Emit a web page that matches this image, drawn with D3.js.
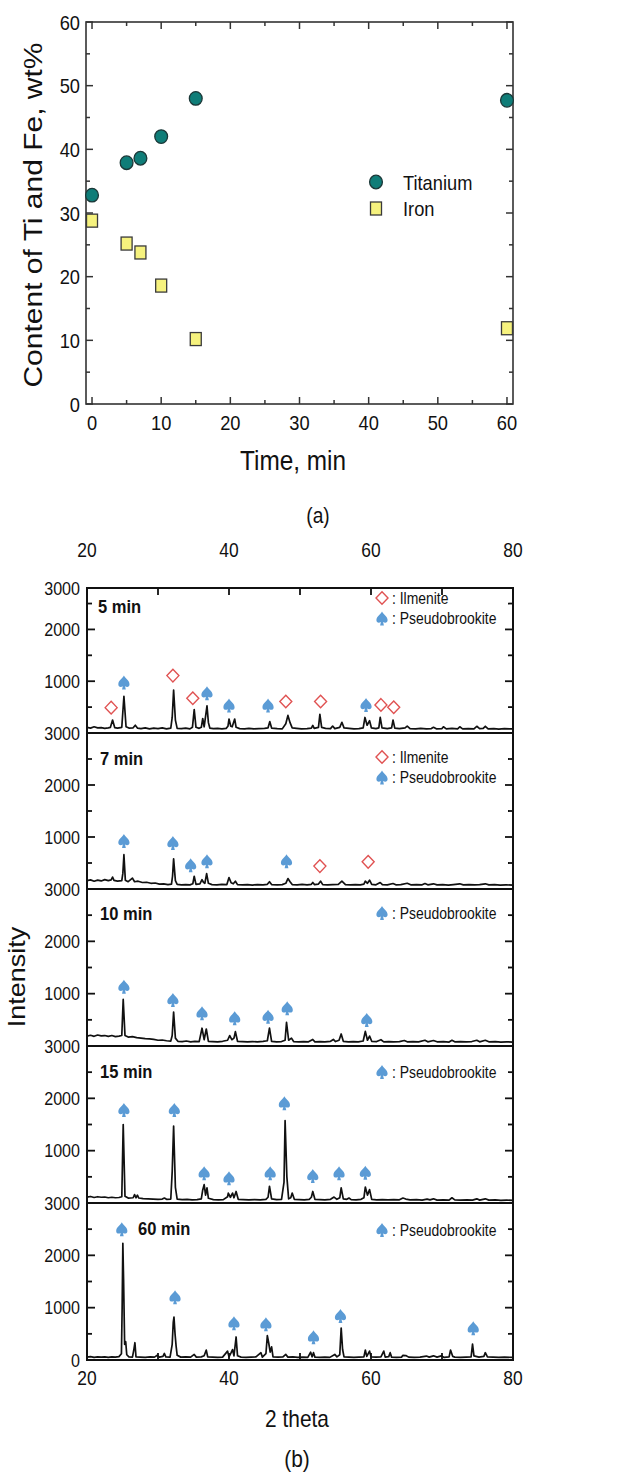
<!DOCTYPE html>
<html><head><meta charset="utf-8">
<script src="https://cdn.jsdelivr.net/npm/d3@7"></script>
<style>
body{margin:0;background:#fff;}
svg{display:block;}
text{font-family:"Liberation Sans",Arial,sans-serif;fill:#111;}
</style></head><body>
<svg id="c" width="636" height="1477"></svg>
<script>
// ---------- Panel (a) data ----------
const times = [0, 5, 7, 10, 15, 60];
const titanium = [32.8, 37.9, 38.6, 42.0, 48.0, 47.7];
const iron = [28.8, 25.2, 23.8, 18.6, 10.2, 11.9];
const aXTicks = [0, 10, 20, 30, 40, 50, 60];
const aXMinor = [5, 15, 25, 35, 45, 55];
const aYTicks = [0, 10, 20, 30, 40, 50, 60];
const aYMinor = [5, 15, 25, 35, 45, 55];
const aLegend = ["Titanium", "Iron"];

// ---------- Panel (b) data ----------
const panelLabels = ["5 min", "7 min", "10 min", "15 min", "60 min"];
const panelYMax = [2800, 3000, 3000, 3000, 3000];
const bXTicks = [20, 40, 60, 80];
const bXMinor = [30, 50, 70];
const bYTicks = [1000, 2000];
const bYMinor = [500, 1500, 2500];

const xrd5 = [[20,110],[20.5,95],[21,120],[21.5,100],[22,105],[22.5,90],[23,100],[23.3,110],[23.6,250],[23.9,105],[24.3,95],[24.9,110],[25.2,710],[25.5,120],[25.9,95],[26.5,100],[26.8,150],[27.1,95],[27.6,85],[28.2,100],[28.8,80],[29.4,95],[30,85],[30.6,100],[31.2,80],[31.8,95],[32.0,300],[32.2,830],[32.45,250],[32.7,90],[33.3,85],[33.9,95],[34.5,80],[34.85,110],[35.1,450],[35.35,110],[35.8,90],[36.1,110],[36.3,280],[36.5,120],[36.9,525],[37.1,200],[37.3,95],[37.8,85],[38.4,90],[39,80],[39.6,90],[39.85,130],[40.0,270],[40.25,130],[40.45,120],[40.8,270],[41.0,110],[41.5,85],[42.2,80],[42.8,90],[43.5,80],[44.2,85],[45,90],[45.5,100],[45.75,220],[46.0,95],[46.8,85],[47.5,80],[48.0,180],[48.3,340],[48.6,200],[48.9,100],[49.5,90],[50.2,80],[51,85],[51.6,95],[51.8,146],[52.0,90],[52.6,110],[52.8,360],[53.05,110],[53.6,90],[54.3,85],[54.6,134],[54.9,85],[55.6,110],[55.9,207],[56.2,100],[56.9,90],[57.6,80],[58.3,85],[58.9,100],[59.15,300],[59.45,150],[59.8,238],[60.05,100],[60.7,85],[61.1,100],[61.3,300],[61.55,100],[62.3,85],[62.9,100],[63.1,250],[63.35,95],[64,85],[64.8,100],[65.1,134],[65.5,85],[66.3,80],[67,90],[67.8,80],[68.5,85],[68.8,110],[69.2,80],[70,85],[70.2,120],[70.6,80],[71.4,90],[72.2,80],[72.5,120],[72.9,80],[73.7,85],[74.5,80],[74.9,130],[75.3,85],[75.8,90],[76.1,130],[76.5,80],[77.3,85],[78,75],[78.8,85],[79.5,80],[80,80]];

const xrd7 = [[20,160],[20.5,175],[21,150],[21.5,170],[22,155],[22.5,180],[23,160],[23.4,175],[23.6,230],[23.8,165],[24.3,150],[24.9,160],[25.05,300],[25.2,660],[25.4,170],[25.8,140],[26.4,210],[26.7,140],[27.2,150],[27.8,125],[28.4,130],[29,110],[29.6,115],[30.2,95],[30.8,100],[31.4,85],[31.9,95],[32.05,250],[32.2,580],[32.45,160],[32.7,90],[33.3,80],[33.9,85],[34.5,80],[34.9,100],[35.1,245],[35.35,90],[35.9,100],[36.2,180],[36.4,130],[36.6,110],[36.85,295],[37.1,110],[37.6,85],[38.3,80],[39,90],[39.7,85],[40.0,220],[40.3,120],[40.6,100],[40.9,150],[41.2,85],[41.9,80],[42.6,85],[43.3,75],[44,85],[44.8,80],[45.4,90],[45.7,140],[46,85],[46.8,80],[47.5,85],[48.0,110],[48.3,200],[48.6,140],[48.9,85],[49.6,80],[50.3,90],[51,80],[51.6,90],[51.8,125],[52.05,85],[52.6,95],[52.9,150],[53.2,85],[53.9,80],[54.6,85],[55.4,90],[55.9,150],[56.4,85],[57.1,80],[57.8,85],[58.5,80],[59.0,95],[59.2,150],[59.5,110],[59.8,170],[60.1,90],[60.7,80],[61.3,125],[61.6,85],[62.3,80],[63.1,105],[63.5,80],[64.2,85],[65.1,110],[65.6,80],[66.4,85],[67.2,80],[67.6,105],[68,80],[68.8,100],[69.3,80],[70.1,85],[70.9,75],[71.6,85],[72.5,100],[73,80],[73.8,85],[74.6,80],[75.3,85],[76.1,100],[76.6,80],[77.4,85],[78.2,75],[79,80],[80,75]];

const xrd10 = [[20,190],[20.5,205],[21,185],[21.5,210],[22,195],[22.5,200],[23,185],[23.5,200],[24,180],[24.5,190],[24.9,200],[25.1,890],[25.35,200],[25.8,170],[26.4,180],[26.7,170],[27.0,160],[27.6,150],[28.2,140],[28.8,135],[29.4,125],[30,110],[30.6,115],[31.2,100],[31.8,95],[32.0,200],[32.2,650],[32.45,150],[32.8,90],[33.4,85],[34,95],[34.6,80],[35.2,90],[35.8,85],[36.2,340],[36.5,120],[36.8,325],[37.1,90],[37.7,85],[38.4,80],[39.1,90],[39.8,110],[40.1,200],[40.4,120],[40.7,150],[40.9,275],[41.2,90],[41.9,85],[42.6,80],[43.3,85],[44,80],[44.8,90],[45.4,100],[45.7,340],[46,90],[46.7,80],[47.4,85],[47.9,110],[48.1,450],[48.4,110],[48.8,150],[49.1,85],[49.8,80],[50.5,85],[51.2,80],[51.8,125],[52.1,80],[52.8,85],[53.5,80],[54.3,90],[54.7,125],[55.0,85],[55.5,110],[55.8,230],[56.1,90],[56.8,80],[57.5,85],[58.2,80],[58.9,95],[59.2,280],[59.5,110],[59.8,190],[60.1,90],[60.8,85],[61.4,120],[61.8,80],[62.5,85],[63.2,80],[64,85],[64.7,105],[65.1,80],[65.9,85],[66.7,80],[67.6,110],[68,80],[68.8,105],[69.3,80],[70.2,85],[71.0,75],[71.4,110],[71.8,80],[72.6,85],[73.4,80],[74.2,85],[74.9,110],[75.3,80],[76.1,110],[76.6,80],[77.5,85],[78.3,75],[79.1,80],[80,75]];

const xrd15 = [[20,110],[20.5,125],[21,105],[21.5,120],[22,110],[22.5,115],[23,100],[23.5,110],[24,100],[24.5,105],[24.9,120],[25.1,1500],[25.35,130],[25.8,95],[26.5,100],[26.7,160],[26.9,100],[27.1,150],[27.3,95],[27.9,85],[28.6,80],[29.3,75],[30,70],[30.6,75],[30.9,95],[31.2,70],[31.8,75],[32.0,600],[32.2,1470],[32.45,300],[32.7,75],[33.4,65],[34.1,70],[34.8,60],[35.5,65],[36.1,80],[36.3,250],[36.5,350],[36.7,150],[36.9,290],[37.1,90],[37.8,65],[38.5,60],[39.2,65],[39.8,120],[39.9,190],[40.2,110],[40.5,190],[40.7,100],[41.0,220],[41.3,70],[42,65],[42.8,60],[43.6,65],[44.4,60],[45.2,70],[45.5,110],[45.7,320],[46,80],[46.7,65],[47.4,70],[47.75,400],[47.9,1575],[48.15,500],[48.4,80],[48.7,100],[48.9,190],[49.2,70],[49.9,65],[50.6,60],[51.3,70],[51.6,110],[51.8,220],[52.1,70],[52.8,65],[53.5,60],[54.3,70],[54.8,113],[55.2,70],[55.6,100],[55.8,290],[56.1,80],[56.6,70],[56.9,95],[57.2,65],[57.9,60],[58.6,70],[59.0,100],[59.2,305],[59.5,150],[59.8,255],[60.1,70],[60.8,60],[61.6,65],[62.4,60],[63.2,65],[64,60],[64.5,95],[64.9,75],[65.5,60],[66.4,65],[67.2,55],[67.9,75],[68.3,60],[68.8,80],[69.3,55],[70.2,60],[71.0,55],[71.4,100],[71.8,60],[72.6,55],[73.5,60],[74.3,55],[74.9,80],[75.3,55],[76.1,80],[76.6,55],[77.5,60],[78.3,50],[79.1,55],[80,50]];

const xrd60 = [[20,55],[20.5,65],[21,50],[21.5,60],[22,55],[22.5,60],[23,50],[23.5,60],[24,55],[24.5,65],[24.85,120],[24.95,1000],[25.05,2230],[25.15,1550],[25.3,300],[25.45,350],[25.6,100],[25.9,60],[26.4,55],[26.6,200],[26.75,330],[26.9,60],[27.5,55],[28.2,50],[28.9,60],[29.5,55],[29.9,90],[30.2,55],[30.7,70],[30.9,125],[31.1,60],[31.7,55],[32.0,300],[32.15,720],[32.25,820],[32.4,500],[32.55,265],[32.7,90],[33.2,55],[33.9,60],[34.6,55],[35.1,107],[35.4,55],[36.1,60],[36.5,80],[36.8,190],[37.0,60],[37.7,55],[38.4,50],[39.1,55],[39.8,170],[40.0,60],[40.3,140],[40.5,200],[40.7,80],[41.0,440],[41.2,80],[41.7,55],[42.4,50],[43.1,55],[43.8,60],[44.5,140],[44.7,55],[45.2,120],[45.4,466],[45.6,320],[45.8,150],[46.0,250],[46.2,60],[46.9,55],[47.6,60],[48.0,107],[48.3,55],[49,60],[49.7,50],[50.4,55],[51.1,50],[51.5,150],[51.7,60],[51.9,140],[52.1,55],[52.8,50],[53.5,55],[54.2,50],[54.9,107],[55.2,60],[55.6,100],[55.8,610],[56.0,200],[56.2,60],[56.9,55],[57.6,50],[58.3,55],[59.0,60],[59.2,190],[59.4,70],[59.8,170],[60.0,60],[60.7,55],[61.4,60],[61.8,170],[62.0,55],[62.5,65],[62.7,140],[62.9,55],[63.6,50],[64.3,55],[64.5,90],[64.9,85],[65.3,55],[66.1,50],[66.9,55],[67.8,75],[68.2,55],[68.8,80],[69.3,55],[69.9,80],[70.3,50],[71.0,60],[71.2,190],[71.5,70],[71.8,55],[72.6,50],[73.4,55],[74.1,60],[74.3,305],[74.5,80],[75.2,55],[75.9,70],[76.1,140],[76.4,60],[77.2,55],[78,50],[78.8,55],[80,50]];

const ilmenite5 = [[23.4,490],[32.1,1108],[34.9,672],[48.0,608],[52.9,608],[61.4,542],[63.2,498]];
const pseudo5 = [[25.2,973],[36.9,770],[40.0,530],[45.5,530],[59.3,542]];
const ilmenite7 = [[52.8,440],[59.6,522]];
const pseudo7 = [[25.2,923],[32.1,885],[34.6,459],[36.9,535],[48.1,535]];
const ilmenite10 = [];
const pseudo10 = [[25.2,1134],[32.1,879],[36.2,625],[40.8,529],[45.5,560],[48.2,720],[59.4,497]];
const ilmenite15 = [];
const pseudo15 = [[25.2,1777],[32.3,1777],[36.5,567],[40.0,472],[45.8,567],[47.8,1905],[51.8,516],[55.5,567],[59.2,579]];
const ilmenite60 = [];
const pseudo60 = [[24.9,2497],[32.4,1198],[40.7,701],[45.2,682],[51.9,434],[55.7,841],[74.4,606]];
const phaseNames = ["Ilmenite", "Pseudobrookite"];

const patterns = [xrd5, xrd7, xrd10, xrd15, xrd60];
const ilmSets = [ilmenite5, ilmenite7, ilmenite10, ilmenite15, ilmenite60];
const pbSets = [pseudo5, pseudo7, pseudo10, pseudo15, pseudo60];

// ---------- layout ----------
const SX = 0.87; // horizontal glyph compression of the original figure
const svg = d3.select("#c");
function T(parent, x, y, str, size, anchor, weight) {
  return parent.append("text")
    .attr("transform", `translate(${x},${y}) scale(${SX},1)`)
    .attr("text-anchor", anchor || "start")
    .style("font-size", size + "px")
    .style("font-weight", weight || "normal")
    .text(str);
}
function TV(parent, x, y, str, size) {
  return parent.append("text")
    .attr("transform", `translate(${x},${y}) rotate(-90) scale(1,${SX})`)
    .attr("text-anchor", "middle")
    .style("font-size", size + "px")
    .text(str);
}
const spadePath = "M0,-7 C1.2,-4.3 5.6,-2.2 5.6,1.6 C5.6,4.2 3.3,5 1.1,3.6 L1.9,7 L-1.9,7 L-1.1,3.6 C-3.3,5 -5.6,4.2 -5.6,1.6 C-5.6,-2.2 -1.2,-4.3 0,-7Z";
const diamondPath = "M0,-6.3 L6,0 L0,6.3 L-6,0Z";
const SPADE = "#5b9bd5", DIAM = "#e05252";

// ===== Panel (a) =====
const A = {l: 86, r: 513, t: 22, b: 404};
const xa = d3.scaleLinear().domain([-0.87, 60.87]).range([A.l, A.r]);
const ya = d3.scaleLinear().domain([0, 60]).range([A.b, A.t]);
const ga = svg.append("g");
const axCol = "#333";

[[aXTicks, 7], [aXMinor, 4]].forEach(([vals, len]) => {
  vals.forEach(v => {
    ga.append("line").attr("x1", xa(v)).attr("x2", xa(v)).attr("y1", A.b).attr("y2", A.b - len).attr("stroke", axCol).attr("stroke-width", 1.5);
    ga.append("line").attr("x1", xa(v)).attr("x2", xa(v)).attr("y1", A.t).attr("y2", A.t + len).attr("stroke", axCol).attr("stroke-width", 1.5);
  });
});
[[aYTicks, 7], [aYMinor, 4]].forEach(([vals, len]) => {
  vals.forEach(v => {
    ga.append("line").attr("y1", ya(v)).attr("y2", ya(v)).attr("x1", A.l).attr("x2", A.l + len).attr("stroke", axCol).attr("stroke-width", 1.5);
    ga.append("line").attr("y1", ya(v)).attr("y2", ya(v)).attr("x1", A.r).attr("x2", A.r - len).attr("stroke", axCol).attr("stroke-width", 1.5);
  });
});
ga.append("rect").attr("x", A.l).attr("y", A.t).attr("width", A.r - A.l).attr("height", A.b - A.t)
  .attr("fill", "none").attr("stroke", axCol).attr("stroke-width", 1.6);
aXTicks.forEach(v => T(ga, xa(v), 430, v, 21, "middle"));
aYTicks.forEach(v => T(ga, 80, ya(v) + 7.5, v, 21, "end"));
TV(ga, 42, 215, "Content of Ti and Fe, wt%", 30);
T(ga, 293, 470, "Time, min", 28, "middle");
T(ga, 318, 523, "(a)", 22, "middle");

ga.selectAll(".ti").data(times.map((t, i) => [t, titanium[i]])).join("ellipse")
  .attr("cx", d => xa(d[0])).attr("cy", d => ya(d[1])).attr("rx", 6.4).attr("ry", 6.8)
  .attr("fill", "#0f7d78").attr("stroke", "#1c3838").attr("stroke-width", 1.3);
ga.selectAll(".fe").data(times.map((t, i) => [t, iron[i]])).join("rect")
  .attr("x", d => xa(d[0]) - 5.5).attr("y", d => ya(d[1]) - 6.5).attr("width", 11).attr("height", 13)
  .attr("fill", "#f6f27e").attr("stroke", "#3a3a3a").attr("stroke-width", 1.3);
ga.append("ellipse").attr("cx", 376).attr("cy", 182).attr("rx", 6.4).attr("ry", 6.8)
  .attr("fill", "#0f7d78").attr("stroke", "#1c3838").attr("stroke-width", 1.3);
ga.append("rect").attr("x", 370.5).attr("y", 202).attr("width", 11).attr("height", 13)
  .attr("fill", "#f6f27e").attr("stroke", "#3a3a3a").attr("stroke-width", 1.3);
T(ga, 403, 190, aLegend[0], 21);
T(ga, 403, 216, aLegend[1], 21);

// ===== Panel (b) =====
const B = {l: 87, r: 513};
const bounds = [588, 733, 889, 1046, 1203, 1360];
const xb = d3.scaleLinear().domain([20, 80]).range([B.l, B.r]);
const gb = svg.append("g");
const labelY = [613, 765, 920, 1078, 1235];
const labelX = [98, 100, 100, 100, 138];
const legY = [598, 757, 913, 1072, 1230];

patterns.forEach((pat, i) => {
  const top = bounds[i], bot = bounds[i + 1];
  const yb = d3.scaleLinear().domain([0, panelYMax[i]]).range([bot, top]);
  const g = gb.append("g");
  g.append("clipPath").attr("id", "cp" + i).append("rect")
    .attr("x", B.l).attr("y", top).attr("width", B.r - B.l).attr("height", bot - top);
  const line = d3.line().x(d => xb(d[0])).y(d => yb(d[1]));
  g.append("path").datum(pat).attr("d", line).attr("fill", "none")
    .attr("stroke", "#111").attr("stroke-width", 1.7).attr("stroke-linejoin", "round")
    .attr("clip-path", `url(#cp${i})`);
  [[bYTicks, 8], [bYMinor, 5]].forEach(([vals, len]) => {
    vals.filter(v => v < panelYMax[i]).forEach(v => {
      g.append("line").attr("x1", B.l).attr("x2", B.l + len).attr("y1", yb(v)).attr("y2", yb(v)).attr("stroke", "#111").attr("stroke-width", 1.8);
      g.append("line").attr("x1", B.r).attr("x2", B.r - len).attr("y1", yb(v)).attr("y2", yb(v)).attr("stroke", "#111").attr("stroke-width", 1.8);
    });
  });
  bYTicks.forEach(v => T(g, 80, yb(v) + 6.5, v, 18.5, "end"));
  T(g, 80, top + 6.5, "3000", 18.5, "end");
  g.selectAll(".d").data(ilmSets[i]).join("path").attr("d", diamondPath)
    .attr("transform", d => `translate(${xb(d[0])},${yb(d[1])})`)
    .attr("fill", "#fff").attr("stroke", DIAM).attr("stroke-width", 1.4);
  g.selectAll(".s").data(pbSets[i]).join("path").attr("d", spadePath)
    .attr("transform", d => `translate(${xb(d[0])},${yb(d[1])})`)
    .attr("fill", SPADE);
  T(g, labelX[i], labelY[i], panelLabels[i], 19, "start", "bold");
  let ly = legY[i];
  if (ilmSets[i].length) {
    g.append("path").attr("d", diamondPath).attr("transform", `translate(382,${ly})`)
      .attr("fill", "#fff").attr("stroke", DIAM).attr("stroke-width", 1.4);
    T(g, 392, ly + 5.5, ": " + phaseNames[0], 16);
    ly += 20.5;
  }
  g.append("path").attr("d", spadePath).attr("transform", `translate(382,${ly})`).attr("fill", SPADE);
  T(g, 392, ly + 5.5, ": " + phaseNames[1], 16);
});
T(gb, 80, 1360 + 6.5, "0", 18.5, "end");
gb.append("rect").attr("x", B.l).attr("y", bounds[0]).attr("width", B.r - B.l).attr("height", bounds[5] - bounds[0])
  .attr("fill", "none").attr("stroke", "#111").attr("stroke-width", 2);
bounds.slice(1, 5).forEach(y => gb.append("line").attr("x1", B.l).attr("x2", B.r).attr("y1", y).attr("y2", y).attr("stroke", "#111").attr("stroke-width", 2));
bXTicks.concat(bXMinor).forEach(v => {
  gb.append("line").attr("x1", xb(v)).attr("x2", xb(v)).attr("y1", bounds[0]).attr("y2", bounds[0] + 7).attr("stroke", "#111").attr("stroke-width", 1.8);
  gb.append("line").attr("x1", xb(v)).attr("x2", xb(v)).attr("y1", bounds[5]).attr("y2", bounds[5] - 7).attr("stroke", "#111").attr("stroke-width", 1.8);
});
bXTicks.forEach(v => {
  T(gb, xb(v), 557, v, 20, "middle");
  T(gb, xb(v), 1385, v, 20, "middle");
});
TV(gb, 25, 977, "Intensity", 27);
T(gb, 297, 1427, "2 theta", 24, "middle");
T(gb, 297, 1467, "(b)", 24, "middle");
</script></body></html>
